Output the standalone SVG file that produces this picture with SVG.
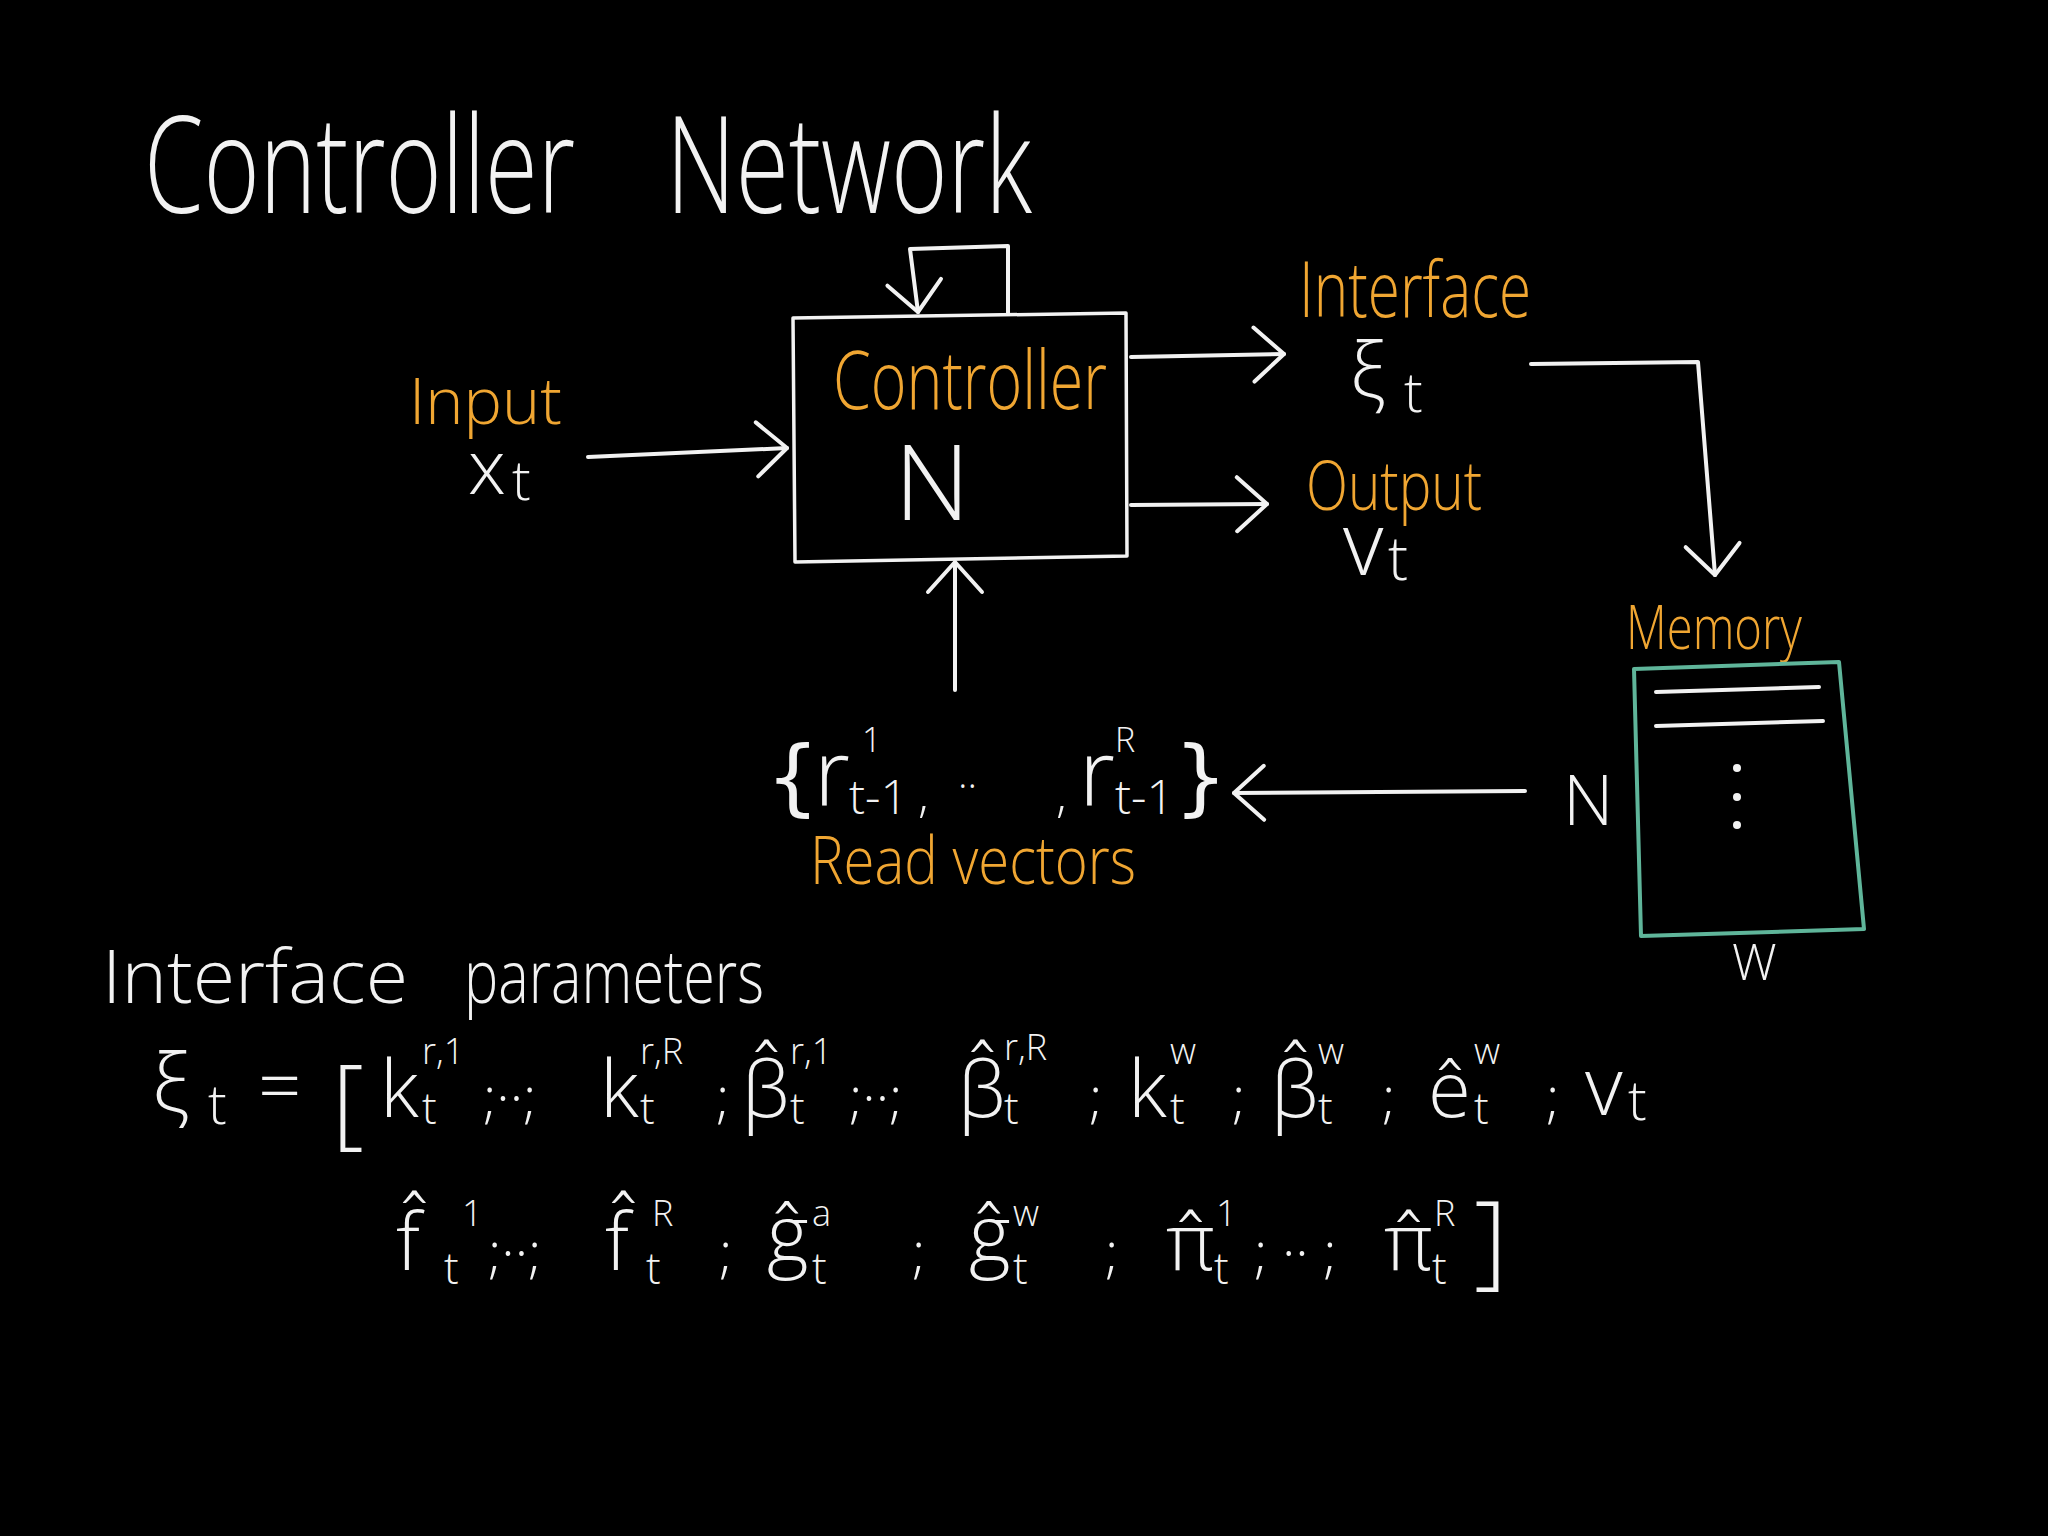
<svg xmlns="http://www.w3.org/2000/svg" width="2048" height="1536" viewBox="0 0 2048 1536">
<style>
text{font-family:"Open Sans","DejaVu Sans",sans-serif;font-weight:300}
.w{fill:#f2f2f2}
.o{fill:#f0a632}
.m{font-family:"DejaVu Sans","Open Sans",sans-serif;font-weight:normal}
.sp{font-size:36px}
.sb{font-size:44px}
.ln{fill:none;stroke:#f2f2f2;stroke-width:4;stroke-linecap:round;stroke-linejoin:round}
.box{fill:none;stroke:#f2f2f2;stroke-width:3.5;stroke-linejoin:round}
.mem{fill:none;stroke:#5fb59a;stroke-width:4;stroke-linejoin:round}
</style>
<defs>
<marker id="arr" viewBox="-36 -32 42 64" refX="0" refY="0" markerWidth="42" markerHeight="64" markerUnits="userSpaceOnUse" orient="auto">
<path d="M-30,-27 L0,0 L-30,27" fill="none" stroke="#f2f2f2" stroke-width="4" stroke-linecap="round" stroke-linejoin="round"/>
</marker>
</defs>
<rect width="2048" height="1536" fill="#000"/>

<text id="title" class="w" x="144" y="213" font-size="135"><tspan x="144" textLength="431" lengthAdjust="spacingAndGlyphs">Controller</tspan> <tspan x="666" textLength="366" lengthAdjust="spacingAndGlyphs">Network</tspan></text>

<g id="controller">
<path class="box" d="M793,318 L1126,313 L1127,556 L795,562 Z"/>
<text class="o" x="833" y="409" font-size="82" textLength="274" lengthAdjust="spacingAndGlyphs">Controller</text>
<text class="w" x="932" y="520" font-size="105" text-anchor="middle">N</text>
</g>

<g id="input">
<text class="o" x="409" y="424" font-size="64" textLength="153" lengthAdjust="spacingAndGlyphs">Input</text>
<text class="w" x="468" y="494" font-size="76">x<tspan x="512" y="500" font-size="56">t</tspan></text>
</g>

<g id="interface">
<text class="o" x="1299" y="317" font-size="78" textLength="232" lengthAdjust="spacingAndGlyphs">Interface</text>
<text class="w" x="1350" y="398" font-size="78">ξ<tspan x="1404" y="412" font-size="56">t</tspan></text>
</g>

<g id="output">
<text class="o" x="1306" y="510" font-size="68" textLength="176" lengthAdjust="spacingAndGlyphs">Output</text>
<text class="w" x="1343" y="575" font-size="88">v<tspan x="1388" y="580" font-size="60">t</tspan></text>
</g>

<g id="memory">
<text class="o" x="1626" y="649" font-size="60" textLength="176" lengthAdjust="spacingAndGlyphs">Memory</text>
<path class="mem" d="M1634,669 L1839,662 L1864,929 L1641,936 Z"/>
<path class="ln" d="M1656,692 L1819,687 M1656,726 L1823,721" stroke-width="3.5"/>
<circle cx="1737" cy="768" r="4" fill="#f2f2f2"/>
<circle cx="1737" cy="797" r="4" fill="#f2f2f2"/>
<circle cx="1737" cy="825" r="4" fill="#f2f2f2"/>
<text class="w" x="1563" y="825" font-size="70">N</text>
<text class="w" x="1732" y="980" font-size="50">W</text>
</g>

<g id="read-vectors">
<text class="w" x="766" y="806" font-size="84"><tspan class="m">{</tspan><tspan x="814" y="806" font-size="92">r</tspan><tspan x="862" y="752" font-size="34">1</tspan><tspan x="849" y="814" font-size="48">t-1</tspan><tspan x="918" y="812" font-size="50">,</tspan><tspan x="958" y="788" font-size="40">..</tspan><tspan x="1056" y="812" font-size="50">,</tspan><tspan x="1079" y="806" font-size="92">r</tspan><tspan x="1115" y="752" font-size="34">R</tspan><tspan x="1115" y="814" font-size="48">t-1</tspan><tspan class="m" x="1174" y="806" font-size="84">}</tspan></text>
<text class="o" x="810" y="884" font-size="66" textLength="326" lengthAdjust="spacingAndGlyphs">Read vectors</text>
</g>

<g id="interface-parameters">
<text class="w" x="102" y="1003" font-size="74"><tspan x="102" textLength="306" lengthAdjust="spacingAndGlyphs">Interface</tspan> <tspan x="464" textLength="300" lengthAdjust="spacingAndGlyphs">parameters</tspan></text>
<!-- line 1 -->
<text class="w" x="152" y="1112" font-size="82">ξ<tspan x="208" y="1124" font-size="56">t</tspan></text>
<text class="w" x="258" y="1112" font-size="76">=</text>
<text class="w" x="332" y="1136" font-size="100">[</text>
<text class="w" x="380" y="1117" font-size="80">k<tspan class="sp" x="422" y="1064">r,1</tspan><tspan class="sb" x="422" y="1124">t</tspan></text>
<text class="w" x="483" y="1117" font-size="56">;··;</text>
<text class="w" x="600" y="1117" font-size="80">k<tspan class="sp" x="640" y="1064">r,R</tspan><tspan class="sb" x="640" y="1124">t</tspan></text>
<text class="w" x="716" y="1117" font-size="56">;</text>
<text class="w" x="742" y="1117" font-size="78">β̂<tspan class="sp" x="790" y="1064">r,1</tspan><tspan class="sb" x="790" y="1124">t</tspan></text>
<text class="w" x="849" y="1117" font-size="56">;··;</text>
<text class="w" x="958" y="1117" font-size="78">β̂<tspan class="sp" x="1004" y="1060">r,R</tspan><tspan class="sb" x="1004" y="1124">t</tspan></text>
<text class="w" x="1089" y="1117" font-size="56">;</text>
<text class="w" x="1128" y="1117" font-size="80">k<tspan class="sp" x="1170" y="1064">w</tspan><tspan class="sb" x="1170" y="1124">t</tspan></text>
<text class="w" x="1232" y="1117" font-size="56">;</text>
<text class="w" x="1271" y="1117" font-size="78">β̂<tspan class="sp" x="1318" y="1064">w</tspan><tspan class="sb" x="1318" y="1124">t</tspan></text>
<text class="w" x="1382" y="1117" font-size="56">;</text>
<text class="w" x="1428" y="1117" font-size="78">ê<tspan class="sp" x="1474" y="1064">w</tspan><tspan class="sb" x="1474" y="1124">t</tspan></text>
<text class="w" x="1546" y="1117" font-size="56">;</text>
<text class="w" x="1585" y="1115" font-size="82">v<tspan x="1628" y="1120" font-size="56">t</tspan></text>
<!-- line 2 -->
<text class="w" x="396" y="1270" font-size="80">f̂<tspan class="sp" x="462" y="1226">1</tspan><tspan class="sb" x="444" y="1284">t</tspan></text>
<text class="w" x="488" y="1272" font-size="56">;··;</text>
<text class="w" x="605" y="1270" font-size="80">f̂<tspan class="sp" x="652" y="1226">R</tspan><tspan class="sb" x="646" y="1284">t</tspan></text>
<text class="w" x="719" y="1272" font-size="56">;</text>
<text class="w" x="767" y="1262" font-size="80">ĝ<tspan class="sp" x="812" y="1226">a</tspan><tspan class="sb" x="812" y="1284">t</tspan></text>
<text class="w" x="912" y="1272" font-size="56">;</text>
<text class="w" x="969" y="1262" font-size="80">ĝ<tspan class="sp" x="1013" y="1226">w</tspan><tspan class="sb" x="1013" y="1284">t</tspan></text>
<text class="w" x="1105" y="1272" font-size="56">;</text>
<text class="w" x="1166" y="1270" font-size="80">π̂<tspan class="sp" x="1216" y="1226">1</tspan><tspan class="sb" x="1214" y="1284">t</tspan></text>
<text class="w" x="1254" y="1272" font-size="56">; ·· ;</text>
<text class="w" x="1384" y="1270" font-size="80">π̂<tspan class="sp" x="1434" y="1226">R</tspan><tspan class="sb" x="1432" y="1284">t</tspan></text>
<text class="w" x="1474" y="1276" font-size="104">]</text>
</g>

<g id="connectors">
<path class="ln" d="M1008,313 L1008,246 L910,249 L918,312" marker-end="url(#arr)"/>
<path class="ln" d="M588,457 L787,448" marker-end="url(#arr)"/>
<path class="ln" d="M1131,357 L1284,354" marker-end="url(#arr)"/>
<path class="ln" d="M1131,505 L1267,504" marker-end="url(#arr)"/>
<path class="ln" d="M955,690 L955,562" marker-end="url(#arr)"/>
<path class="ln" d="M1531,364 L1698,362 L1715,575" marker-end="url(#arr)"/>
<path class="ln" d="M1525,791 L1234,793" marker-end="url(#arr)"/>
</g>
</svg>
